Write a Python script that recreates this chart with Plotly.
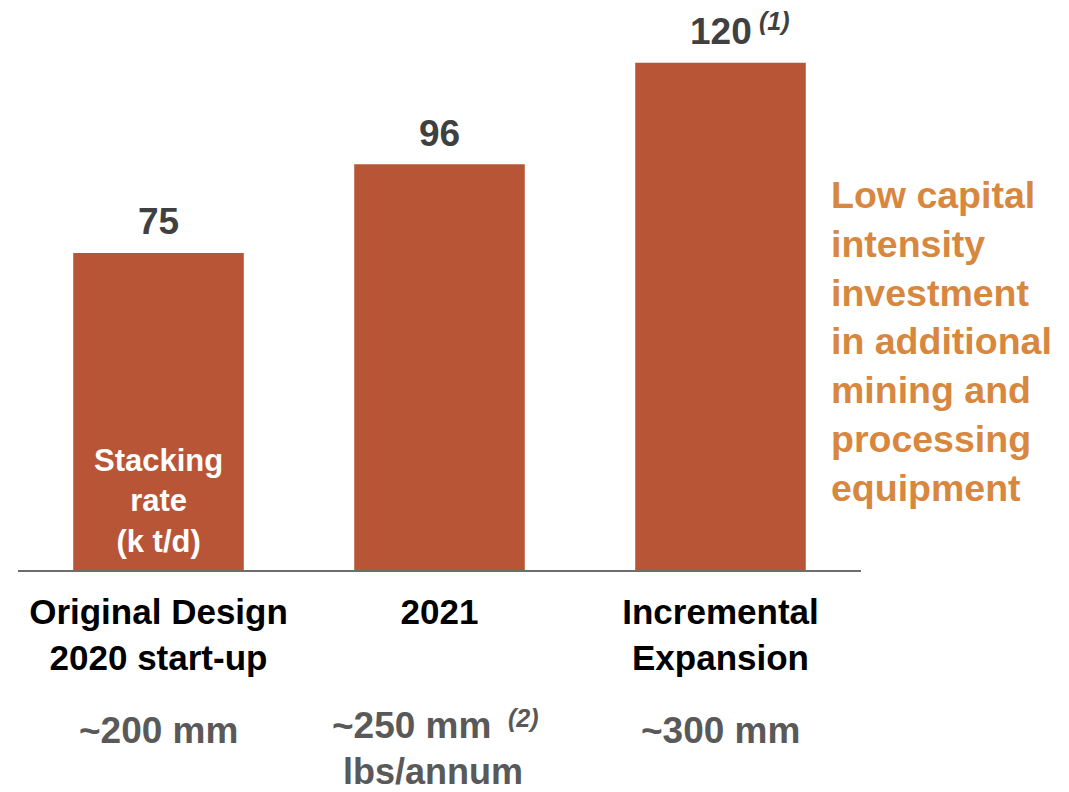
import plotly.graph_objects as go

categories = ["Original Design<br>2020 start-up", "2021", "Incremental<br>Expansion"]
stacking_rate = [75, 96, 120]
value_notes = ["", "", "(1)"]
production_line1 = ["~200 mm", "~250 mm", "~300 mm"]
production_notes = ["", "(2)", ""]
production_line2 = ["", "lbs/annum", ""]
side_text = "Low capital<br>intensity<br>investment<br>in additional<br>mining and<br>processing<br>equipment"
inner_label = "Stacking<br>rate<br>(k t/d)"

BAR = "#B85537"
FONT = "Liberation Sans"
GRAY = "#595959"

x_idx = list(range(len(categories)))

fig = go.Figure()
fig.add_trace(go.Bar(
    x=x_idx, y=stacking_rate, marker=dict(color=BAR, line=dict(width=0)),
    hoverinfo="skip", showlegend=False,
))

# value labels
for i, v in enumerate(stacking_rate):
    fig.add_annotation(x=i, y=v, text=str(v), showarrow=False, yanchor="middle", yshift=31,
                       font=dict(family=FONT, size=37, color="#404040", weight="bold"))
    if value_notes[i]:
        fig.add_annotation(x=i, y=v, text="<i>" + value_notes[i] + "</i>", showarrow=False,
                           xanchor="left", yanchor="middle", xshift=36, yshift=42,
                           font=dict(family=FONT, size=25, color="#404040", weight="bold"))

# production labels below categories
for i in x_idx:
    has_note = bool(production_notes[i])
    fig.add_annotation(x=i, xref="x", y=-0.2873 + (0.004 if has_note else -0.004), yref="paper",
                       text=production_line1[i], showarrow=False, yanchor="middle",
                       xshift=-28 if has_note else 0,
                       font=dict(family=FONT, size=37, color=GRAY, weight="bold"))
    if has_note:
        fig.add_annotation(x=i, xref="x", y=-0.2873, yref="paper",
                           text="<i>" + production_notes[i] + "</i>", showarrow=False,
                           xanchor="left", yanchor="middle", xshift=66, yshift=10,
                           font=dict(family=FONT, size=25, color=GRAY, weight="bold"))
    if production_line2[i]:
        fig.add_annotation(x=i, xref="x", y=-0.366, yref="paper",
                           text=production_line2[i], showarrow=False, yanchor="middle",
                           xshift=-7,
                           font=dict(family=FONT, size=36, color=GRAY, weight="bold"))

# inner label
fig.add_annotation(x=0, y=16.3, text=inner_label, showarrow=False,
                   font=dict(family=FONT, size=31, color="white", weight="bold"))

# side text
fig.add_annotation(x=0.962, xref="paper", y=0.415, yref="paper", text=side_text,
                   showarrow=False, xanchor="left", yanchor="middle", align="left",
                   font=dict(family=FONT, size=37.5, color="#D8873E", weight="bold"))

fig.update_layout(
    width=1069, height=792,
    margin=dict(l=18, r=208, t=20, b=222),
    paper_bgcolor="white", plot_bgcolor="white",
    bargap=0.393,
    xaxis=dict(tickmode="array", tickvals=x_idx, ticktext=categories, range=[-0.5, 2.5],
               showline=True, linecolor="#6d6d6d", linewidth=2, showgrid=False, zeroline=False,
               ticks="", ticklabelstandoff=10,
               tickfont=dict(family=FONT, size=35, color="black", weight="bold")),
    yaxis=dict(range=[0, 130.1], visible=False, showgrid=False, zeroline=False),
)

fig.write_html("out.html")
